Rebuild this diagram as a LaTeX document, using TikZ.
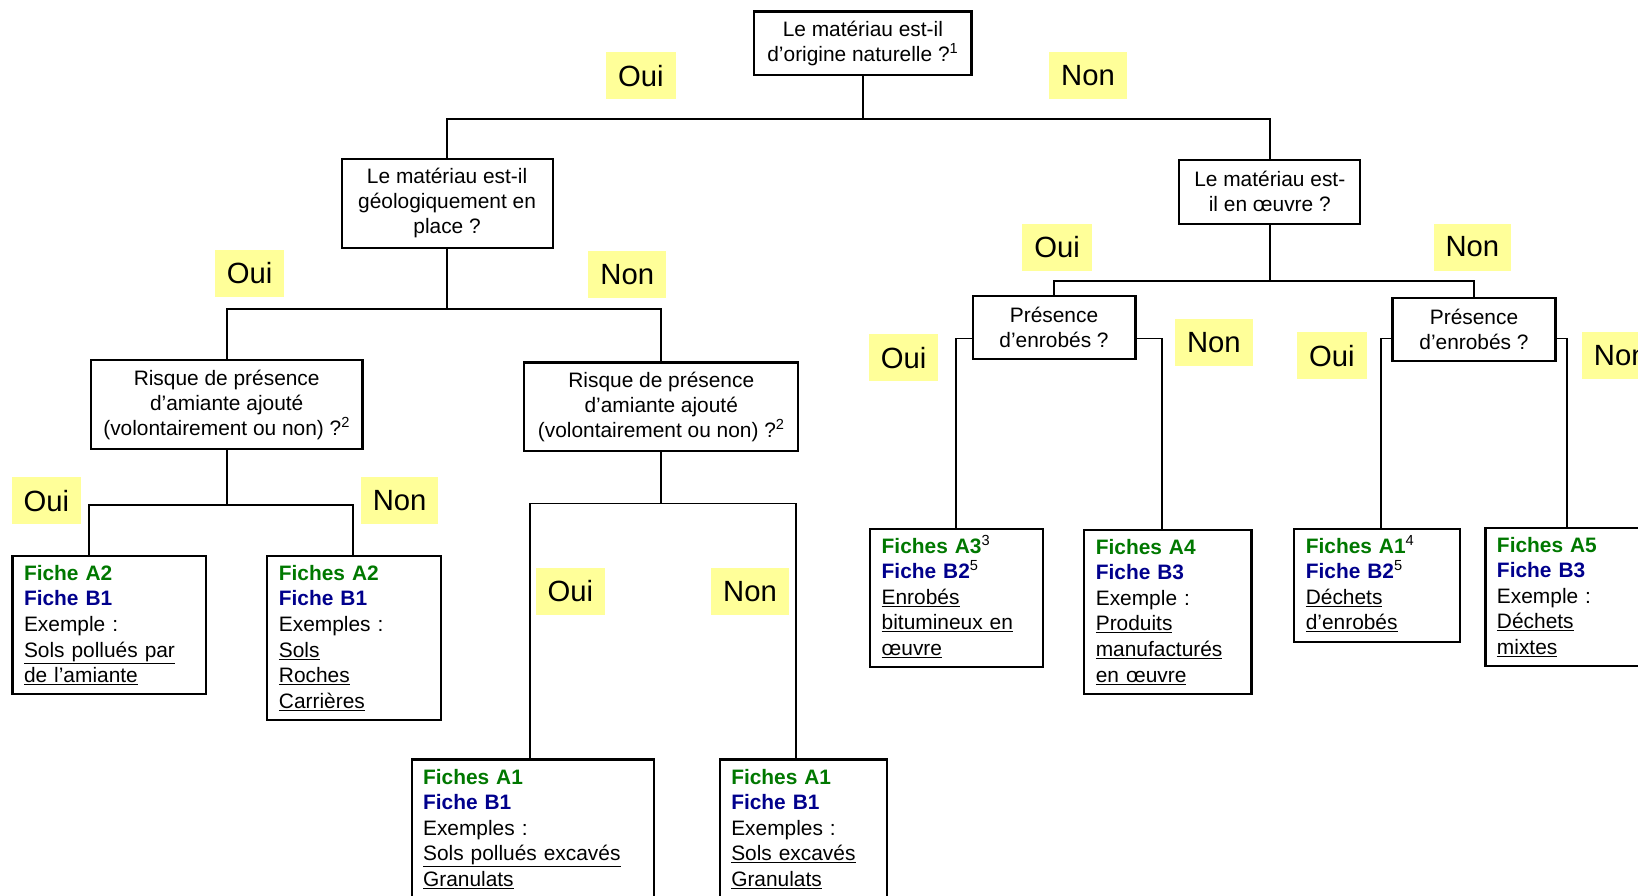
\documentclass[tikz,border=0pt]{standalone}
\usepackage{fontspec}
\setmainfont{Liberation Sans}
\usetikzlibrary{calc}
\definecolor{ficheA}{RGB}{0,120,0}
\definecolor{ficheB}{RGB}{0,0,140}
\definecolor{reponseFond}{RGB}{255,255,153}
\tikzset{question/.style={draw,line width=2pt,align=center,inner sep=0,font=\fontsize{20}{24}\selectfont}}
\tikzset{fiche/.style={draw,line width=2pt,align=left,anchor=north west,inner xsep=11,inner ysep=9,font=\fontsize{20}{24.5}\selectfont}}
\tikzset{reponse/.style={fill=reponseFond,inner xsep=11.5,inner ysep=0,minimum height=45,font=\fontsize{28}{30}\selectfont}}
\tikzset{branche/.style={line width=1.8pt}}
\def\fA#1{\textcolor{ficheA}{\textbf{#1}}}
\def\fB#1{\textcolor{ficheB}{\textbf{#1}}}
\def\ex#1{\underline{#1}}
\def\sup#1{\smash{\textsuperscript{#1}}}

\begin{document}
\begin{tikzpicture}[x=1pt,y=-1pt]

  \useasboundingbox (0,0) rectangle (1568,857);
  \clip (0,0) rectangle (1568,857);

  % questions
  \node[question, minimum width=208, minimum height=61] (nature)   at (826,41.5)   {Le matériau est-il\\d’origine naturelle ?\sup{1}};
  \node[question, minimum width=202, minimum height=85] (geologie) at (428,194.5)  {Le matériau est-il\\géologiquement en\\place ?};
  \node[question, minimum width=173, minimum height=61] (oeuvre)   at (1215.5,183.5) {Le matériau est-\\il en œuvre ?};
  \node[question, minimum width=260, minimum height=85] (risque1)  at (217,387.5)  {Risque de présence\\d’amiante ajouté\\(volontairement ou non) ?\sup{2}};
  \node[question, minimum width=262, minimum height=85] (risque2)  at (633,389.5)  {Risque de présence\\d’amiante ajouté\\(volontairement ou non) ?\sup{2}};
  \node[question, minimum width=156, minimum height=61] (enrobes1) at (1009,313.5) {Présence\\d’enrobés ?};
  \node[question, minimum width=156, minimum height=61] (enrobes2) at (1411,315.5) {Présence\\d’enrobés ?};

  % fiches
  \node[fiche, text width=163] (ficheAmiante) at (11,531)  {\fA{Fiche A2}\\\fB{Fiche B1}\\Exemple :\\\ex{Sols pollués par}\\\ex{de l’amiante}};
  \node[fiche, text width=144] (ficheSols)    at (255,531) {\fA{Fiches A2}\\\fB{Fiche B1}\\Exemples :\\\ex{Sols}\\\ex{Roches}\\\ex{Carrières}};
  \node[fiche, text width=210] (fichePollues) at (393,726) {\fA{Fiches A1}\\\fB{Fiche B1}\\Exemples :\\\ex{Sols pollués excavés}\\\ex{Granulats}\\[40pt]\strut};
  \node[fiche, text width=138] (ficheExcaves) at (688,726) {\fA{Fiches A1}\\\fB{Fiche B1}\\Exemples :\\\ex{Sols excavés}\\\ex{Granulats}\\[40pt]\strut};
  \node[fiche, text width=143] (ficheEnrobes) at (832,505) {\fA{Fiches A3}\sup{3}\\\fB{Fiche B2}\sup{5}\\\ex{Enrobés}\\\ex{bitumineux en}\\\ex{œuvre}};
  \node[fiche, text width=138] (ficheProduits) at (1037,506) {\fA{Fiches A4}\\\fB{Fiche B3}\\Exemple :\\\ex{Produits}\\\ex{manufacturés}\\\ex{en œuvre}};
  \node[fiche, text width=137] (ficheDechets) at (1238,505) {\fA{Fiches A1}\sup{4}\\\fB{Fiche B2}\sup{5}\\\ex{Déchets}\\\ex{d’enrobés}};
  \node[fiche, text width=138] (ficheMixtes)  at (1421,504) {\fA{Fiches A5}\\\fB{Fiche B3}\\Exemple :\\\ex{Déchets}\\\ex{mixtes}};

  % branches
  \draw[branche] (nature.south) -- ++(0,41) coordinate (jNature);
  \draw[branche] (geologie.north) |- (jNature) -| (oeuvre.north);
  \draw[branche] (geologie.south) -- ++(0,58) coordinate (jGeologie);
  \draw[branche] (risque1.north) |- (jGeologie) -| (risque2.north);
  \draw[branche] (risque1.south) -- ++(0,52) coordinate (jRisque1);
  \draw[branche] ([xshift=74]ficheAmiante.north west) |- (jRisque1) -| ([xshift=83]ficheSols.north west);
  \draw[branche] (risque2.south) -- ++(0,49) coordinate (jRisque2);
  \draw[branche] ([xshift=114]fichePollues.north west) |- (jRisque2) -| ([xshift=74]ficheExcaves.north west);
  \draw[branche] (oeuvre.south) -- ++(0,54) coordinate (jOeuvre);
  \draw[branche] (enrobes1.north) |- (jOeuvre) -| (enrobes2.north);
  \draw[branche] ([xshift=83]ficheEnrobes.north west) |- ([yshift=-10.5]enrobes1.west);
  \draw[branche] ([yshift=-10.5]enrobes1.east) -| ([xshift=75]ficheProduits.north west);
  \draw[branche] ([xshift=84]ficheDechets.north west) |- ([yshift=-8.5]enrobes2.west);
  \draw[branche] ([yshift=-8.5]enrobes2.east) -| ([xshift=79]ficheMixtes.north west);

  % reponses
  \node[reponse] (ouiNature)   at (613.5,72.5)  {Oui};
  \node[reponse] (nonNature)   at (1041.5,72.5) {Non};
  \node[reponse] (ouiGeologie) at (239,261.5)   {Oui};
  \node[reponse] (nonGeologie) at (600.5,262.5) {Non};
  \node[reponse] (ouiRisque1)  at (44.5,479.5)  {Oui};
  \node[reponse] (nonRisque1)  at (382.5,479.5) {Non};
  \node[reponse] (ouiRisque2)  at (546,566)     {Oui};
  \node[reponse] (nonRisque2)  at (718,566)     {Non};
  \node[reponse] (ouiOeuvre)   at (1012,236.5)  {Oui};
  \node[reponse] (nonOeuvre)   at (1409.5,236.5) {Non};
  \node[reponse] (ouiEnrobes1) at (865,342.5)   {Oui};
  \node[reponse] (nonEnrobes1) at (1162,327.5)  {Non};
  \node[reponse] (ouiEnrobes2) at (1275,340.5)  {Oui};
  \node[reponse] (nonEnrobes2) at (1551.5,340.5) {Non};

\end{tikzpicture}
\end{document}
